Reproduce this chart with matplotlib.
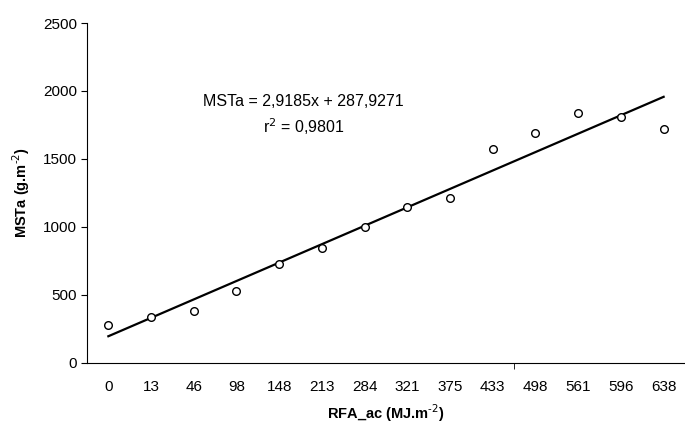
import matplotlib.pyplot as plt
import numpy as np

plt.rcParams['font.family'] = ['Liberation Sans', 'DejaVu Sans']

# RFA_ac categories (MJ.m-2) and MSTa values (g.m-2)
rfa = ['0', '13', '46', '98', '148', '213', '284', '321', '375', '433', '498', '561', '596', '638']
msta = [279, 336, 380, 527, 726, 846, 998, 1145, 1215, 1571, 1689, 1836, 1809, 1718]

idx = np.arange(len(rfa))
coef = np.polyfit(idx, msta, 1)

fig = plt.figure(figsize=(6.85, 4.26), dpi=100)
ax = fig.add_axes([0.127, 0.148, 0.873, 0.798])

ax.plot(idx, np.polyval(coef, idx), color='black', lw=1.6, zorder=2)
ax.plot(idx, msta, 'o', mfc='white', mec='black', ms=5.5, mew=1.0, zorder=3)

ax.set_xlim(-0.5, len(rfa) - 0.5)
ax.set_ylim(0, 2500)
ax.set_yticks(np.arange(0, 2501, 500))
ax.set_xticks(idx)
ax.set_xticklabels(rfa)
ax.set_xticks([9.5], minor=True)
ax.tick_params(axis='x', which='major', length=0, pad=12, labelsize=11)
ax.tick_params(axis='x', which='minor', length=4, direction='out')
ax.tick_params(axis='y', length=4, direction='out', labelsize=11, pad=3)

for s in ['top', 'right']:
    ax.spines[s].set_visible(False)
ax.spines['left'].set_linewidth(0.8)
ax.spines['bottom'].set_linewidth(0.8)

ax.set_xlabel(r'RFA_ac (MJ.m$^{\text{-2}}$)', fontweight='bold', fontsize=10.5, labelpad=6)
ax.set_ylabel(r'MSTa (g.m$^{\text{-2}}$)', fontweight='bold', fontsize=10.5, labelpad=8)

ax.text(0.362, 0.727, 'MSTa = 2,9185x + 287,9271\nr$^2$ = 0,9801', transform=ax.transAxes,
        ha='center', va='center', fontsize=11.5, linespacing=1.45)

fig.savefig('out.png', dpi=100)
